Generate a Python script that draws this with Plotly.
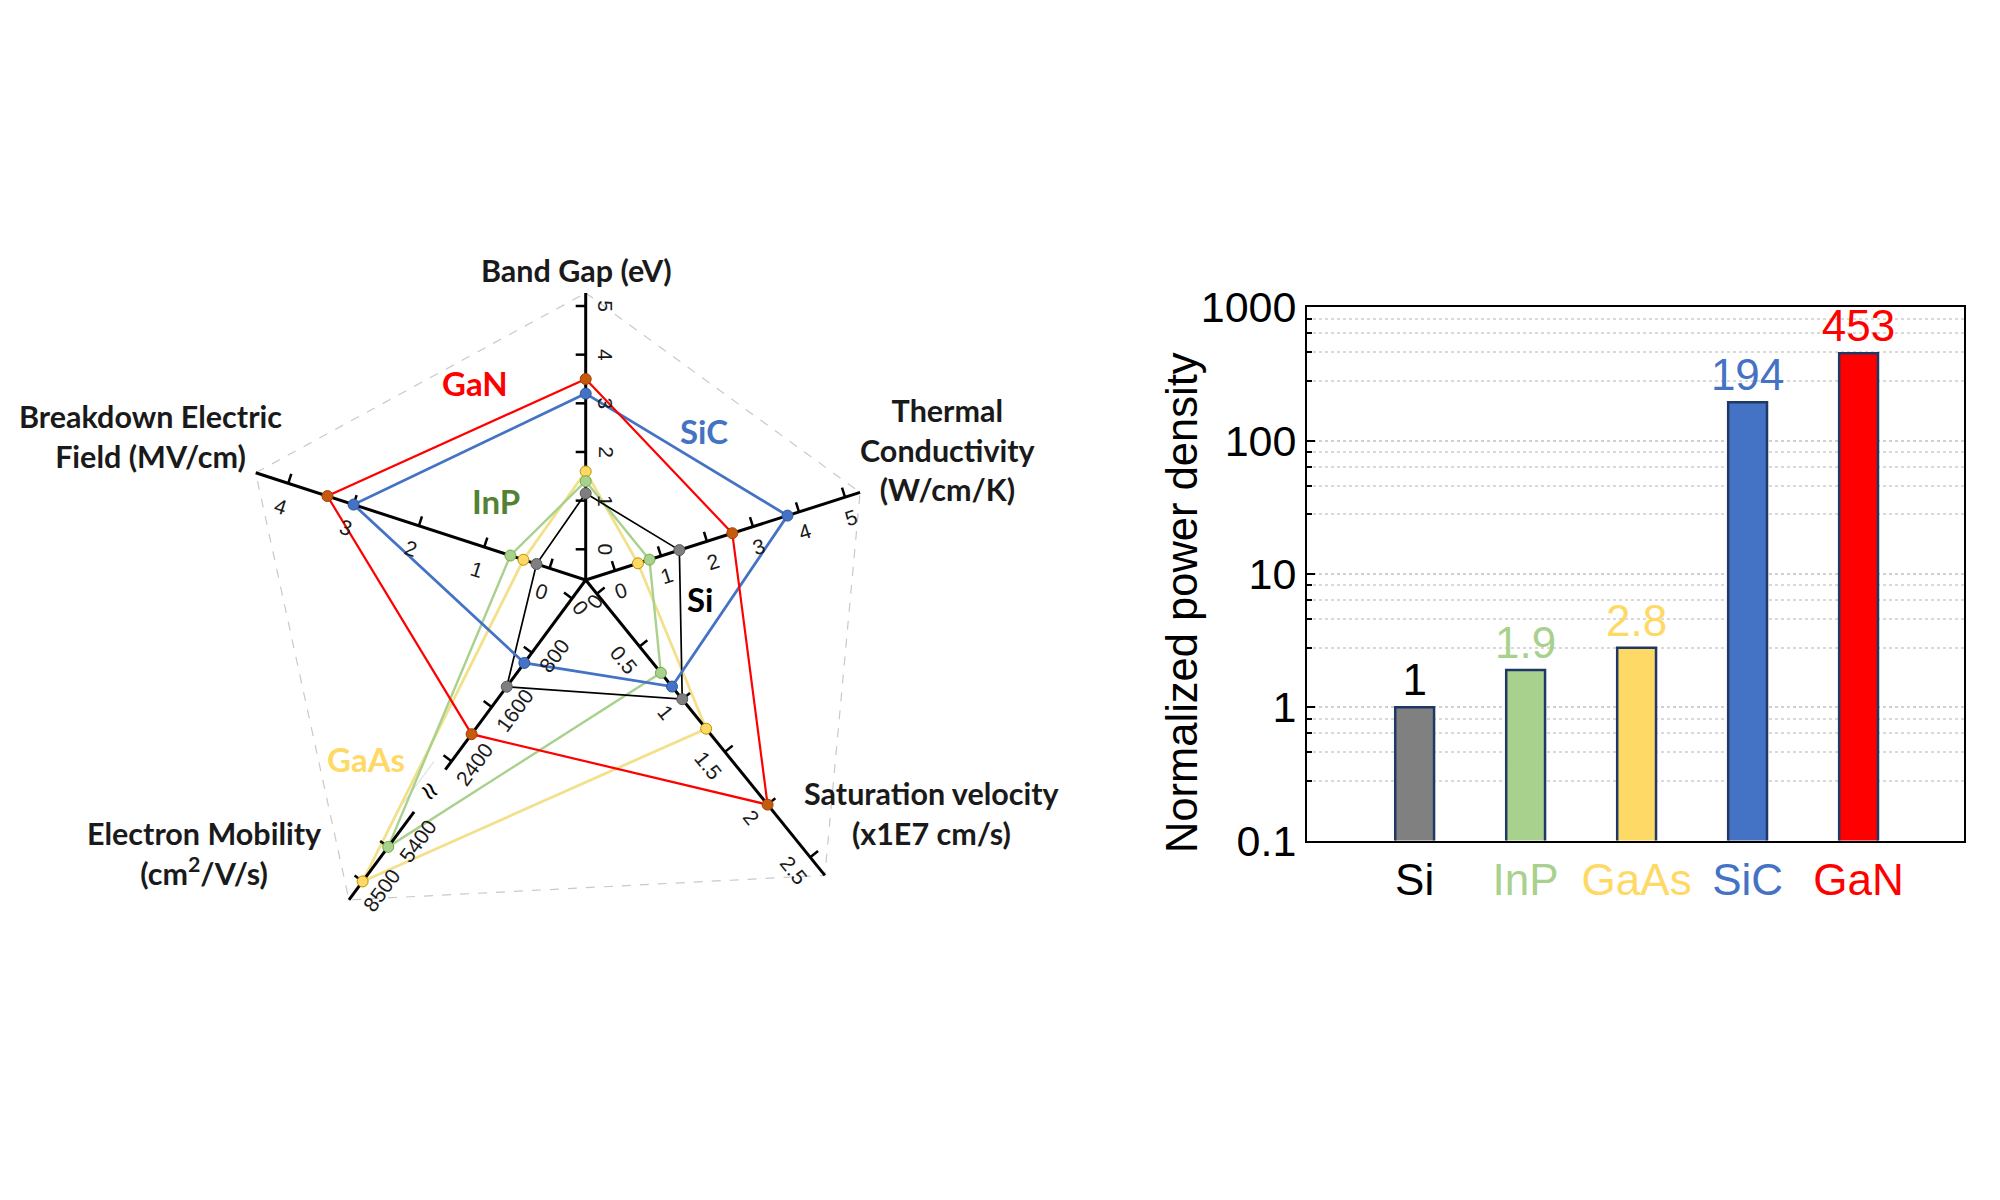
import numpy as np
import plotly.graph_objects as go

# ---------------- data ----------------
materials = ["Si", "InP", "GaAs", "SiC", "GaN"]
band_gap = [1.15, 1.4, 1.6, 3.2, 3.5]          # eV
thermal = [1.4, 0.75, 0.5, 3.75, 2.55]         # W/cm/K
sat_velocity = [1.0, 0.75, 1.28, 0.88, 2.0]    # x1E7 cm/s
mobility = [1300, 5400, 8500, 950, 2000]       # cm2/V/s
breakdown = [0.2, 0.6, 0.4, 3.0, 3.4]          # MV/cm

bg_ticks = [0, 1, 2, 3, 4, 5]
tc_ticks = [0, 1, 2, 3, 4, 5]
sv_ticks = [0, 0.5, 1, 1.5, 2, 2.5]
mob_ticks = [0, 800, 1600, 2400, 5400, 8500]
bd_ticks = [0, 1, 2, 3, 4]

power_density = [1, 1.9, 2.8, 194, 453]
power_labels = ["1", "1.9", "2.8", "194", "453"]
y_tickvals = [0.1, 1, 10, 100, 1000]
y_ticktext = ["0.1", "1", "10", "100", "1000"]

# ---------------- styles ----------------
mat_line = {"Si": "#000000", "InP": "#A9D18E", "GaAs": "#F3E08C", "SiC": "#4472C4", "GaN": "#FF0000"}
mat_lw = {"Si": 1.7, "InP": 2.4, "GaAs": 2.8, "SiC": 2.8, "GaN": 2.2}
mat_mfill = {"Si": "#7F7F7F", "InP": "#A9D18E", "GaAs": "#FFD966", "SiC": "#4472C4", "GaN": "#C55A11"}
mat_mline = {"Si": "#595959", "InP": "#70AD47", "GaAs": "#BF9000", "SiC": "#2F5597", "GaN": "#A04000"}
bar_fill = {"Si": "#808080", "InP": "#A9D18E", "GaAs": "#FFD966", "SiC": "#4472C4", "GaN": "#FF0000"}
bar_text = {"Si": "#000000", "InP": "#A9D18E", "GaAs": "#FFD966", "SiC": "#4472C4", "GaN": "#FF0000"}

RF = "Lato"
BF = "Liberation Sans, Arial, sans-serif"
OFF = 8                       # page body margin
FW, FH = 2000 - 2 * OFF, 1200 - 2 * OFF
CX, CY = 585.7, 580.0         # radar centre (page pixels)


def lin(off, unit):
    return lambda v: off + unit * v


def mob_scale(v):
    if v <= 2400:
        return 23.0 + 0.0844 * v
    return 332.0 + (v - 5400) * 43.0 / 3100.0


axes = [
    dict(ang=90.0, f=lin(30.7, 48.66), segs=[(0, 287)], side=1, ta=90, lo=20, ticks=bg_ticks, shift={}),
    dict(ang=17.7, f=lin(30.7, 48.3), segs=[(0, 288)], side=1, ta=-17.7, lo=21, ticks=tc_ticks, shift={}),
    dict(ang=-51.0, f=lin(17.8, 135.6), segs=[(0, 380)], side=1, ta=51, lo=21, ticks=sv_ticks, shift={}),
    dict(ang=233.5, f=mob_scale, segs=[(0, 236), (288.5, 398)], side=-1, ta=-53.5, lo=20, ticks=mob_ticks,
         shift={"default": -11, 5400: -23, 8500: -4}),
    dict(ang=162.0, f=lin(38.0, 68.7), segs=[(0, 347)], side=-1, ta=18, lo=24, ticks=bd_ticks, shift={}),
]
series_vals = [band_gap, thermal, sat_velocity, mobility, breakdown]


def unit_vec(a):
    r = np.radians(a)
    return np.cos(r), np.sin(r)


def pos(ax, d):
    ux, uy = unit_vec(ax["ang"])
    return d * ux, d * uy


def fmt(v):
    return "%g" % v


def P(x, y):
    return (x - OFF) / FW, 1 - (y - OFF) / FH


fig = go.Figure()

# dashed outline connecting axis ends
ox, oy = [], []
for ax in axes + [axes[0]]:
    x, y = pos(ax, ax["segs"][-1][1])
    ox.append(x); oy.append(y)
fig.add_trace(go.Scatter(x=ox, y=oy, mode="lines", xaxis="x2", yaxis="y2",
                         line=dict(color="#C9C9C9", width=1.2, dash="dash"),
                         hoverinfo="skip", showlegend=False))

# faint guide across the mobility break
ax_m = axes[3]
nx, ny = unit_vec(ax_m["ang"] - 90)
gx, gy = [], []
for d in (236, 288.5):
    x, y = pos(ax_m, d)
    gx.append(x + nx * 14); gy.append(y + ny * 14)
fig.add_trace(go.Scatter(x=gx, y=gy, mode="lines", xaxis="x2", yaxis="y2",
                         line=dict(color="#E3E3E3", width=1.2),
                         hoverinfo="skip", showlegend=False))

# series polygons
order = ["GaAs", "InP", "Si", "SiC", "GaN"]
pts = {}
for i, m in enumerate(materials):
    xs, ys = [], []
    for k, ax in enumerate(axes):
        x, y = pos(ax, ax["f"](series_vals[k][i]))
        xs.append(x); ys.append(y)
    pts[m] = (xs, ys)
for m in order:
    xs, ys = pts[m]
    fig.add_trace(go.Scatter(x=xs + xs[:1], y=ys + ys[:1], mode="lines", xaxis="x2", yaxis="y2",
                             line=dict(color=mat_line[m], width=mat_lw[m]),
                             hoverinfo="skip", showlegend=False))

# axis lines and ticks
lx, ly, tx, ty = [], [], [], []
annotations = []
for ax in axes:
    for a, b in ax["segs"]:
        x0, y0 = pos(ax, a); x1, y1 = pos(ax, b)
        lx += [x0, x1, None]; ly += [y0, y1, None]
    nxv, nyv = unit_vec(ax["ang"] + 90 * ax["side"])
    uxv, uyv = unit_vec(ax["ang"])
    for t in ax["ticks"]:
        d = ax["f"](t)
        x, y = pos(ax, d)
        tx += [x, x + nxv * 10, None]; ty += [y, y + nyv * 10, None]
        s = ax["shift"].get(t, ax["shift"].get("default", 0))
        annotations.append(dict(x=x - nxv * ax["lo"] + uxv * s, y=y - nyv * ax["lo"] + uyv * s,
                                xref="x2", yref="y2", xanchor="center", yanchor="middle",
                                text=fmt(t), showarrow=False, textangle=ax["ta"],
                                font=dict(family=BF, size=21, color="#1a1a1a")))
fig.add_trace(go.Scatter(x=lx, y=ly, mode="lines", xaxis="x2", yaxis="y2",
                         line=dict(color="#000000", width=3), hoverinfo="skip", showlegend=False))
fig.add_trace(go.Scatter(x=tx, y=ty, mode="lines", xaxis="x2", yaxis="y2",
                         line=dict(color="#000000", width=2.5), hoverinfo="skip", showlegend=False))

# break mark
bx, by = pos(ax_m, 262)
annotations.append(dict(x=bx, y=by, xref="x2", yref="y2", xanchor="center", yanchor="middle",
                        text="≈", showarrow=False, textangle=50,
                        font=dict(family=BF, size=30, color="#000000")))

# markers
for m in order:
    xs, ys = pts[m]
    fig.add_trace(go.Scatter(x=xs, y=ys, mode="markers", xaxis="x2", yaxis="y2",
                             marker=dict(size=11, color=mat_mfill[m], line=dict(color=mat_mline[m], width=1)),
                             hoverinfo="skip", showlegend=False))

# series labels
lab_pos = {"GaN": (474.5, 382.7), "SiC": (704, 431), "InP": (496, 501), "Si": (700, 599.5), "GaAs": (366, 759)}
lab_col = {"GaN": "#FF0000", "SiC": "#4472C4", "InP": "#548235", "Si": "#000000", "GaAs": "#FFD966"}
for m, (x, y) in lab_pos.items():
    px, py = P(x, y)
    annotations.append(dict(x=px, y=py, xref="paper", yref="paper", xanchor="center", yanchor="middle",
                            text="<b>%s</b>" % m, showarrow=False,
                            font=dict(family=RF, size=33, color=lab_col[m])))

# axis titles
titles = [
    ("Band Gap (eV)", 576.5, 270.4),
    ("Thermal<br>Conductivity<br>(W/cm/K)", 948, 449),
    ("Saturation velocity<br>(x1E7 cm/s)", 932.4, 813),
    ("Electron Mobility<br>(cm<sup>2</sup>/V/s)", 204, 853),
    ("Breakdown Electric<br>Field (MV/cm)", 150.5, 435.5),
]
for t, x, y in titles:
    px, py = P(x, y)
    annotations.append(dict(x=px, y=py, xref="paper", yref="paper", xanchor="center", yanchor="middle",
                            text="<b>%s</b>" % t, showarrow=False,
                            font=dict(family=RF, size=30.5, color="#1a1a1a")))

# ---------------- bar chart ----------------
fig.add_trace(go.Bar(
    x=materials, y=power_density, width=0.35,
    marker=dict(color=[bar_fill[m] for m in materials], line=dict(color="#203864", width=2.5)),
    text=power_labels, textposition="outside", cliponaxis=False, constraintext="none",
    textfont=dict(family=BF, size=44, color=[bar_text[m] for m in materials]),
    hoverinfo="skip", showlegend=False, xaxis="x", yaxis="y"))

minor_vals = []
for dec in [0.1, 1, 10, 100]:
    minor_vals += [dec * f for f in (2.8, 4.6, 6.4, 8.2)]

tx_, ty_ = P(1182, 603)
annotations.append(dict(x=tx_, y=ty_, xref="paper", yref="paper", xanchor="center", yanchor="middle",
                        text="Normalized power density", textangle=-90, showarrow=False,
                        font=dict(family=BF, size=43.5, color="#000000")))

bx0 = P(1307, 0)[0]; bx1 = P(1964, 0)[0]
by0 = P(0, 840.5)[1]; by1 = P(0, 307.4)[1]
rx1 = P(1150, 0)[0]

fig.update_layout(
    width=FW, height=FH, margin=dict(l=0, r=0, t=0, b=0, pad=0, autoexpand=False),
    paper_bgcolor="white", plot_bgcolor="white",
    annotations=annotations,
    xaxis=dict(domain=[bx0, bx1], range=[-0.97, 4.95], tickmode="array", tickvals=materials,
               ticktext=["<span style='color:%s'>%s</span>" % (bar_text[m], m) for m in materials],
               tickfont=dict(family=BF, size=44), ticks="", showgrid=False, automargin=False,
               showline=True, linecolor="#000000", linewidth=2, mirror=True, ticklabelstandoff=0,
               zeroline=False),
    yaxis=dict(domain=[by0, by1], type="log", range=[-1, 3], tickmode="array", tickvals=y_tickvals,
               ticktext=y_ticktext, tickfont=dict(family=BF, size=43, color="#000000"),
               ticks="inside", ticklen=8, tickwidth=1.5, tickcolor="#000000", automargin=False,
               showgrid=True, gridcolor="#D0D0D0", griddash="dot", gridwidth=1.5,
               minor=dict(tickmode="array", tickvals=minor_vals, ticks="inside", ticklen=5,
                          tickcolor="#000000", showgrid=True, gridcolor="#D9D9D9", griddash="dot",
                          gridwidth=1.5),
               showline=True, linecolor="#000000", linewidth=2, mirror=True, ticklabelstandoff=0,
               zeroline=False),
    xaxis2=dict(domain=[0, rx1], range=[OFF - CX, 1150 - CX], visible=False, fixedrange=True,
                automargin=False),
    yaxis2=dict(domain=[0, 1], range=[CY - (1200 - OFF), CY - OFF], visible=False, fixedrange=True,
                automargin=False),
)

fig.write_html("out.html")
